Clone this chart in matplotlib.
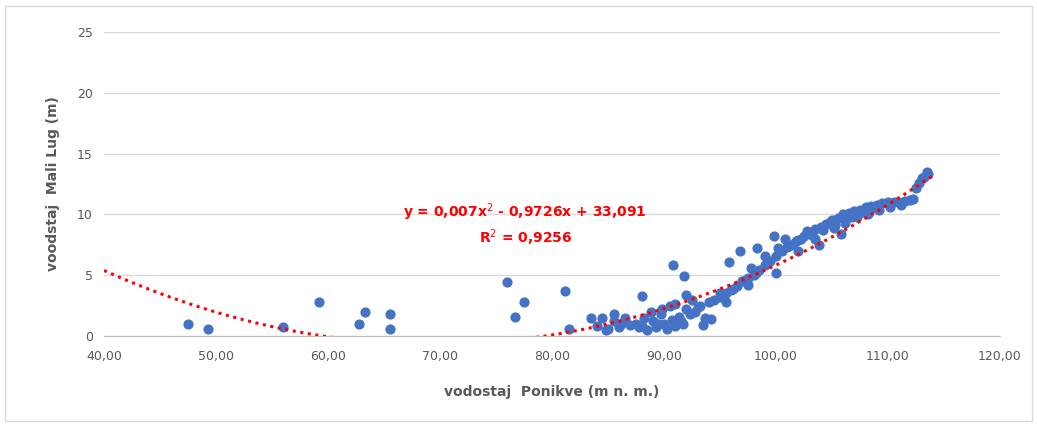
import matplotlib
matplotlib.use("Agg")
import matplotlib.pyplot as plt
import numpy as np

x_pts = [47.5,49.3,56.0,59.2,62.8,63.3,65.5,65.5,76.0,76.7,77.5,81.2,81.5,
         83.5,84.0,84.5,85.0,85.5,86.0,86.5,87.0,87.5,88.0,88.2,88.5,89.0,89.3,89.7,90.0,90.3,90.7,91.0,91.3,91.7,92.0,92.3,92.8,93.2,93.7,94.0,94.5,
         84.8,86.2,87.8,88.8,89.5,90.5,91.5,92.5,93.5,94.2,95.0,95.5,
         85.5,88.0,89.8,91.0,92.0,93.0,
         90.8,91.8,95.8,96.8,97.5,98.3,
         95.0,95.5,96.0,96.5,97.0,97.5,98.0,98.5,99.0,99.5,100.0,100.5,101.0,101.5,102.0,102.5,103.0,103.5,104.0,104.5,105.0,105.5,106.0,106.5,107.0,107.5,108.0,108.5,109.0,109.5,110.0,110.5,111.0,111.5,112.0,112.5,113.0,113.5,
         96.2,97.2,98.2,99.2,100.2,101.2,102.2,103.2,104.2,105.2,106.2,107.2,108.2,109.2,110.2,111.2,112.2,
         99.8,100.8,101.8,102.8,103.8,104.8,105.8,106.8,107.8,108.8,
         97.8,99.0,100.0,102.0,103.5,105.3,106.0,112.8,113.2,113.6]
y_pts = [1.0,0.6,0.7,2.8,1.0,2.0,1.8,0.6,4.4,1.6,2.8,3.7,0.6,
         1.5,0.8,1.5,0.6,1.2,0.7,1.5,0.9,1.0,0.8,1.5,0.5,1.2,0.7,1.8,1.0,0.6,1.3,0.8,1.6,1.0,2.2,1.8,2.0,2.5,1.5,2.8,3.0,
         0.5,1.0,0.7,2.0,1.0,2.5,1.2,3.0,0.9,1.4,3.5,2.8,
         1.8,3.3,2.2,2.6,3.4,2.4,
         5.8,4.9,6.1,7.0,4.2,7.2,
         3.2,3.5,3.8,4.1,4.5,4.8,5.0,5.4,5.8,6.2,6.6,7.0,7.3,7.6,7.9,8.2,8.5,8.8,9.0,9.2,9.5,9.7,9.9,10.1,10.3,10.4,10.6,10.7,10.8,10.9,11.0,11.0,11.0,11.1,11.2,12.2,13.0,13.5,
         3.9,4.6,5.2,6.0,7.2,7.4,8.0,8.3,8.7,8.9,9.3,9.8,10.0,10.4,10.6,10.8,11.3,
         8.2,8.0,7.8,8.6,7.5,9.4,8.4,9.8,10.2,10.5,
         5.6,6.6,5.2,7.0,8.0,9.1,10.0,12.6,13.1,13.3]

xt = [40,50,60,70,80,90,100,110,120]
yt = [0,5,10,15,20,25]
a, b, c = 0.007, -0.9726, 33.091

fig = plt.figure(figsize=(10.37,4.25), dpi=100)
fig.patches.append(matplotlib.patches.Rectangle((0.005,0.01),0.99,0.975, transform=fig.transFigure,
                   fill=False, edgecolor="#d9d9d9", lw=1))
ax = fig.add_axes([104/1037, 1-336/425, 896/1037, 304/425])
ax.set_xlim(40,120); ax.set_ylim(0,25)
ax.set_xticks(xt); ax.set_yticks(yt)
ax.set_xticklabels([f"{v:.2f}".replace(".", ",") for v in xt])
ax.grid(axis="y", color="#d9d9d9", lw=1)
ax.set_axisbelow(True)
for s in ["top","right","left"]:
    ax.spines[s].set_visible(False)
ax.spines["bottom"].set_color("#bfbfbf")
ax.tick_params(length=0, colors="#595959", labelsize=9)
ax.tick_params(axis="x", pad=10)
ax.tick_params(axis="y", pad=8)
ax.scatter(x_pts, y_pts, s=40, color="#4472c4", zorder=3)
xx = np.linspace(40, 114, 300)
ax.plot(xx, a*xx**2 + b*xx + c, ls=(0,(1,1.5)), color="#ff0000", lw=2.2, zorder=4)
ax.text(77.6, 10.2, "y = 0,007x$^2$ - 0,9726x + 33,091", color="#ff0000", fontweight="bold",
        ha="center", va="center", fontsize=10)
ax.text(77.6, 8.1, "R$^2$ = 0,9256", color="#ff0000", fontweight="bold", ha="center", va="center", fontsize=10)
ax.set_xlabel("vodostaj  Ponikve (m n. m.)", fontweight="bold", color="#595959", fontsize=10, labelpad=16)
ax.set_ylabel("voodstaj  Mali Lug (m)", fontweight="bold", color="#595959", fontsize=10, labelpad=12)
fig.savefig("out.png", dpi=100)
